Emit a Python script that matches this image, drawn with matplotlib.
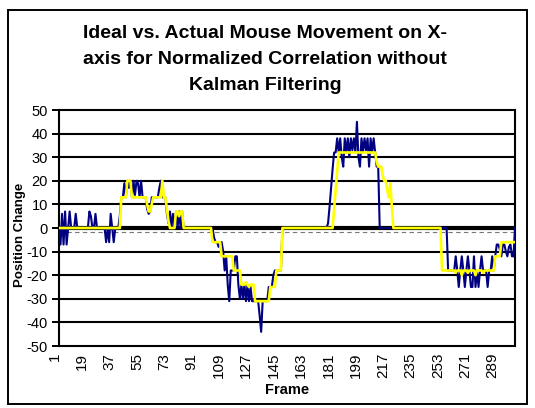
import numpy as np
import matplotlib
matplotlib.use("Agg")
import matplotlib.pyplot as plt
import matplotlib.transforms as mtransforms
from matplotlib.patches import Rectangle

plt.rcParams['font.family'] = ['Liberation Sans', 'DejaVu Sans']

title_lines = ["Ideal vs. Actual Mouse Movement on X-",
               "axis for Normalized Correlation without",
               "Kalman Filtering"]
x_label = "Frame"
y_label = "Position Change"

# actual (blue) position change per frame, frames 1..301
actual = [
    0, -7, 6, -7, 7, -7, 0, 7, 0, 0,
    0, 6, 0, 0, 0, 0, 0, 0, 0, 0,
    7, 5, 0, 0, 6, 0, 0, 0, 0, 0,
    0, -6, 0, -6, 6, 0, -6, 0, 0, 0,
    5, 13, 13, 19, 13, 20, 17, 20, 13, 20,
    14, 20, 19, 13, 20, 13, 13, 13, 8, 6,
    7, 13, 13, 13, 13, 13, 17, 20, 13, 13,
    13, 6, 2, 7, 0, 6, 0, 7, 0, 7,
    0, 7, 0, 0, 0, 0, 0, 0, 0, 0,
    0, 0, 0, 0, 0, 0, 0, 0, 0, 0,
    0, 0, -4, -6, -6, -8, -6, -6, -10, -18,
    -12, -24, -31, -18, -18, -18, -12, -12, -24, -30,
    -24, -30, -24, -31, -24, -31, -25, -31, -31, -31,
    -31, -31, -37, -44, -31, -31, -31, -31, -25, -25,
    -25, -20, -18, -18, -18, -18, -18, 0, 0, 0,
    0, 0, 0, 0, 0, 0, 0, 0, 0, 0,
    0, 0, 0, 0, 0, 0, 0, 0, 0, 0,
    0, 0, 0, 0, 0, 0, 0, 2, 9, 17,
    25, 32, 32, 38, 32, 38, 30, 26, 38, 32,
    38, 30, 38, 33, 38, 32, 45, 30, 26, 38,
    32, 38, 33, 38, 26, 38, 32, 38, 32, 26,
    26, 0, 0, 0, 0, 0, 0, 0, 0, 0,
    0, 0, 0, 0, 0, 0, 0, 0, 0, 0,
    0, 0, 0, 0, 0, 0, 0, 0, 0, 0,
    0, 0, 0, 0, 0, 0, 0, 0, 0, 0,
    0, 0, 0, 0, 0, 0, -18, -18, -18, -18,
    -18, -12, -18, -25, -18, -12, -18, -25, -18, -12,
    -18, -25, -25, -12, -25, -18, -25, -18, -12, -18,
    -18, -18, -25, -18, -18, -12, -18, -12, -7, -7,
    -9, -12, -7, -7, -10, -12, -8, -7, -12, -12,
    0,
]

# ideal (yellow) position change per frame
ideal = [
    0, 0, 0, 0, 0, 0, 0, 0, 0, 0,
    0, 0, 0, 0, 0, 0, 0, 0, 0, 0,
    0, 0, 0, 0, 0, 0, 0, 0, 0, 0,
    0, 0, 0, 0, 0, 0, 0, 0, 0, 0,
    0, 13, 13, 13, 13, 20, 20, 20, 13, 13,
    13, 13, 13, 13, 13, 13, 13, 13, 10, 7,
    7, 10, 13, 13, 13, 13, 13, 13, 20, 13,
    13, 8, 3, 0, 0, 0, 0, 7, 7, 5,
    7, 7, 0, 0, 0, 0, 0, 0, 0, 0,
    0, 0, 0, 0, 0, 0, 0, 0, 0, 0,
    0, -6, -6, -6, -6, -6, -6, -12, -12, -12,
    -12, -12, -12, -12, -12, -18, -18, -18, -18, -18,
    -24, -24, -24, -23, -24, -25, -24, -24, -24, -31,
    -31, -31, -31, -31, -31, -31, -31, -31, -31, -25,
    -25, -25, -25, -18, -18, -18, -18, 0, 0, 0,
    0, 0, 0, 0, 0, 0, 0, 0, 0, 0,
    0, 0, 0, 0, 0, 0, 0, 0, 0, 0,
    0, 0, 0, 0, 0, 0, 0, 0, 0, 0,
    0, 8, 16, 24, 32, 32, 32, 32, 32, 32,
    32, 32, 32, 32, 32, 32, 32, 32, 32, 32,
    32, 32, 32, 32, 32, 32, 32, 32, 32, 28,
    26, 26, 26, 22, 20, 20, 16, 13, 19, 9,
    0, 0, 0, 0, 0, 0, 0, 0, 0, 0,
    0, 0, 0, 0, 0, 0, 0, 0, 0, 0,
    0, 0, 0, 0, 0, 0, 0, 0, 0, 0,
    0, 0, -18, -18, -18, -18, -18, -18, -18, -18,
    -18, -19, -18, -18, -18, -20, -18, -18, -18, -19,
    -18, -18, -18, -18, -20, -18, -18, -18, -18, -19,
    -18, -18, -18, -18, -18, -18, -18, -12, -12, -12,
    -12, -6, -6, -6, -6, -6, -6, -6, -6, -6,
    -6,
]

frames = np.arange(1, len(actual) + 1)
x_ticks = list(range(1, 290, 18))
y_ticks = list(range(-50, 51, 10))

W, H = 535, 408
fig = plt.figure(figsize=(W / 100, H / 100), dpi=100)

# outer chart border
fig.patches.append(Rectangle((8 / W, 1 - 404 / H), 519 / W, 394 / H,
                             transform=fig.transFigure, fill=False,
                             edgecolor='black', lw=1.4))

ax = fig.add_axes([59 / W, 1 - 346 / H, 456 / W, 236 / H])

for yv in y_ticks[1:-1]:
    ax.axhline(yv, color='black', lw=1.5, zorder=1)
ax.axhline(0, color='black', lw=3, zorder=1)
ax.axhline(-1.6, color='#777777', lw=0.8, ls=(0, (4, 3)), zorder=1)

ax.plot(frames, actual, color='#000080', lw=1.5, zorder=3)
ax.plot(frames, ideal, color='#FFFF00', lw=1.9, zorder=4)

ax.set_xlim(frames[0], frames[-1])
ax.set_ylim(-50, 50)
ax.set_yticks(y_ticks)
ax.set_yticklabels([str(v) for v in y_ticks], fontsize=10.5)
ax.set_xticks(x_ticks)
ax.set_xticklabels([str(v) for v in x_ticks], fontsize=11, rotation=90)
ax.tick_params(axis='y', length=5, width=1.4, pad=3)
ax.tick_params(axis='x', length=0, pad=5)
offset = mtransforms.ScaledTranslation(-3 / 72, 0, fig.dpi_scale_trans)
for lab in ax.get_xticklabels():
    lab.set_transform(lab.get_transform() + offset)

for sp in ax.spines.values():
    sp.set_linewidth(1.5)

ax.set_xlabel(x_label, fontsize=10.5, fontweight='bold', labelpad=3)
ax.set_ylabel(y_label, fontsize=9.5, fontweight='bold')
ax.yaxis.set_label_coords(-33 / 456, 0.47)

for i, line in enumerate(title_lines):
    fig.text(265 / W, 1 - (33 + 26.5 * i) / H, line, ha='center', va='center',
             fontsize=14, fontweight='bold')

fig.savefig('out.png', dpi=100)
